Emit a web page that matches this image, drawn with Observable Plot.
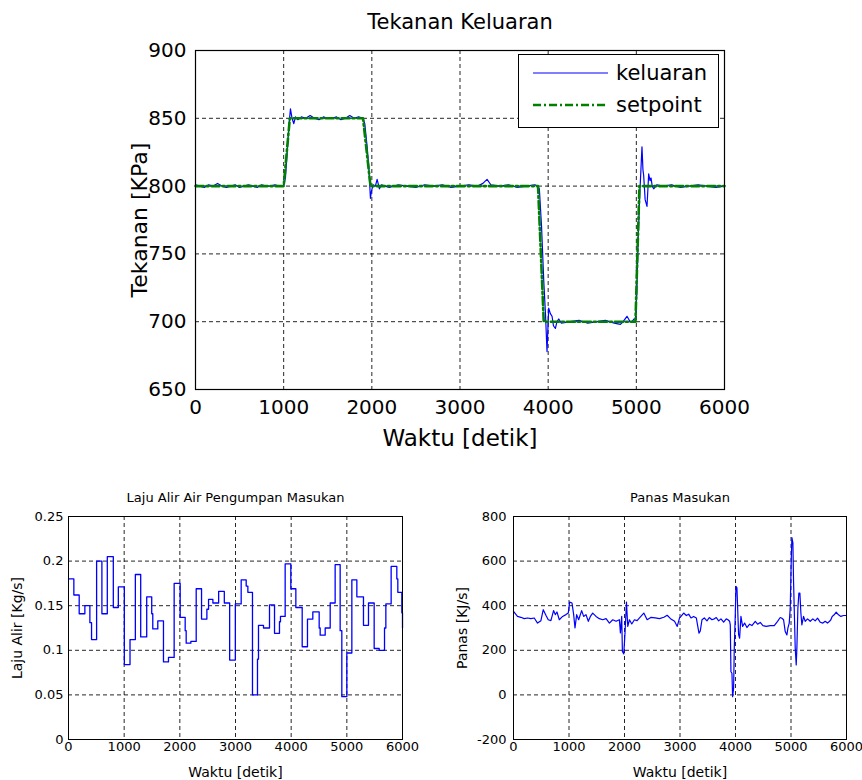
<!DOCTYPE html>
<html>
<head>
<meta charset="utf-8">
<script src="https://cdn.jsdelivr.net/npm/d3@7"></script>
<script src="https://cdn.jsdelivr.net/npm/@observablehq/plot@0.6"></script>
<style>
  html, body { margin: 0; padding: 0; background: white; }
  #page { position: relative; width: 862px; height: 780px; overflow: hidden; background: white; font-family: "DejaVu Sans", sans-serif; }
  .chart { position: absolute; }
  #legend { position: absolute; left: 518px; top: 54px; width: 201px; height: 74px; border: 1px solid black; background: white; box-sizing: border-box; }
  #legend svg { position: absolute; left: 0; top: 0; }
</style>
</head>
<body>
<div id="page">
  <div id="top" class="chart" style="left:0;top:0"></div>
  <div id="bl" class="chart" style="left:0;top:470px"></div>
  <div id="br" class="chart" style="left:431px;top:470px"></div>
  <div id="legend"></div>
</div>
<script>
// ---------- data ----------
const xTicks = [0, 1000, 2000, 3000, 4000, 5000, 6000];
const tekananTicks = [650, 700, 750, 800, 850, 900];
const lajuTicks = [0, 0.05, 0.1, 0.15, 0.2, 0.25];
const panasTicks = [-200, 0, 200, 400, 600, 800];

const titleTop = "Tekanan Keluaran";
const titleLaju = "Laju Alir Air Pengumpan Masukan";
const titlePanas = "Panas Masukan";
const xLabel = "Waktu [detik]";
const yLabelTop = "Tekanan [KPa]";
const yLabelLaju = "Laju Alir [Kg/s]";
const yLabelPanas = "Panas [KJ/s]";
const seriesNames = ["keluaran", "setpoint"];

// setpoint [t, KPa]
const setpoint = [
  [0, 800], [1000, 800], [1070, 850], [1900, 850], [1985, 800],
  [3885, 800], [3950, 700], [4990, 700], [5035, 800], [6000, 800]
];

// keluaran [t, KPa]
const keluaran = [
  [0, 801], [50, 800], [100, 799], [150, 801], [200, 800], [250, 802], [300, 800], [350, 799],
  [400, 800], [450, 801], [500, 799], [550, 800], [600, 801], [650, 800], [700, 799], [750, 801],
  [800, 800], [850, 800], [900, 801], [950, 800], [1000, 800], [1020, 806], [1040, 825], [1060, 845],
  [1077, 857], [1095, 850], [1115, 846], [1134, 851], [1160, 849], [1200, 851], [1250, 850], [1300, 852],
  [1350, 850], [1400, 849], [1450, 851], [1500, 850], [1550, 850], [1600, 851], [1650, 849], [1700, 850],
  [1750, 852], [1800, 850], [1850, 851], [1900, 850], [1920, 846], [1945, 830], [1965, 815], [1984, 791],
  [1995, 796], [2014, 801], [2040, 800], [2060, 805], [2086, 798], [2110, 801], [2150, 800], [2200, 799],
  [2300, 801], [2400, 800], [2500, 799], [2600, 801], [2700, 800], [2800, 801], [2900, 799], [3000, 800],
  [3100, 801], [3200, 800], [3260, 802], [3307, 805], [3350, 801], [3450, 800], [3550, 801], [3650, 799],
  [3750, 800], [3850, 801], [3880, 800], [3900, 798], [3925, 770], [3950, 730], [3970, 705], [3987, 678],
  [4006, 710], [4025, 706], [4044, 704], [4060, 697], [4082, 695], [4100, 700], [4120, 702], [4150, 699],
  [4250, 700], [4350, 701], [4450, 699], [4550, 700], [4650, 701], [4750, 699], [4819, 698], [4850, 700],
  [4894, 704], [4930, 700], [4951, 700], [4975, 702], [4990, 702], [5005, 720], [5020, 760], [5040, 795],
  [5064, 829], [5075, 812], [5083, 808], [5100, 790], [5121, 785], [5140, 809], [5155, 804], [5167, 806],
  [5180, 800], [5197, 798], [5234, 801], [5300, 800], [5400, 801], [5500, 799], [5600, 800], [5700, 801],
  [5800, 800], [5900, 799], [6000, 800]
];

// laju alir air [t, Kg/s] (held until next t)
const laju = [
  [0, 0.180], [96, 0.162], [192, 0.141], [294, 0.150], [384, 0.131], [414, 0.112], [505, 0.200],
  [600, 0.141], [697, 0.205], [805, 0.148], [895, 0.171], [1003, 0.084], [1105, 0.112], [1201, 0.185],
  [1297, 0.115], [1405, 0.160], [1495, 0.141], [1514, 0.124], [1604, 0.133], [1706, 0.087], [1796, 0.092],
  [1898, 0.175], [2006, 0.137], [2096, 0.122], [2114, 0.108], [2198, 0.110], [2294, 0.169], [2390, 0.135],
  [2486, 0.146], [2516, 0.157], [2594, 0.153], [2697, 0.166], [2799, 0.153], [2895, 0.089], [2997, 0.152],
  [3102, 0.179], [3192, 0.172], [3222, 0.165], [3305, 0.050], [3395, 0.090], [3413, 0.128], [3503, 0.125],
  [3611, 0.151], [3701, 0.119], [3790, 0.132], [3808, 0.138], [3892, 0.197], [3994, 0.169], [4084, 0.148],
  [4198, 0.104], [4293, 0.135], [4389, 0.143], [4503, 0.125], [4521, 0.117], [4611, 0.125], [4701, 0.153],
  [4790, 0.196], [4880, 0.122], [4910, 0.048], [5000, 0.097], [5090, 0.179], [5180, 0.160], [5299, 0.128],
  [5389, 0.153], [5491, 0.102], [5581, 0.100], [5677, 0.125], [5701, 0.152], [5796, 0.194], [5898, 0.180],
  [5916, 0.165], [5988, 0.142], [6000, 0.125]
];

// panas masukan [t, KJ/s]
const panas = [
  [0, 375], [72, 352], [132, 348], [193, 342], [253, 345], [313, 342], [373, 345], [433, 322], [494, 333],
  [536, 382], [584, 357], [626, 337], [674, 333], [722, 378], [753, 360], [783, 372], [825, 337], [885, 352],
  [945, 360], [987, 367], [1011, 416], [1054, 412], [1084, 360], [1108, 300], [1138, 360], [1174, 337],
  [1228, 378], [1264, 352], [1306, 360], [1348, 330], [1385, 352], [1427, 367], [1487, 352], [1547, 342],
  [1607, 337], [1668, 342], [1728, 322], [1788, 337], [1848, 330], [1908, 337], [1926, 278], [1950, 352],
  [1962, 195], [1987, 184], [2011, 285], [2035, 416], [2059, 307], [2089, 337], [2131, 318], [2179, 337],
  [2227, 333], [2270, 345], [2348, 367], [2408, 337], [2480, 348], [2552, 345], [2631, 342], [2709, 348],
  [2769, 357], [2829, 342], [2902, 330], [2950, 307], [2992, 345], [3018, 352], [3066, 367], [3114, 356],
  [3156, 362], [3198, 345], [3246, 352], [3294, 345], [3318, 311], [3342, 277], [3366, 287], [3396, 337],
  [3438, 345], [3486, 332], [3528, 347], [3576, 337], [3618, 341], [3654, 347], [3696, 332], [3738, 341],
  [3786, 326], [3834, 341], [3864, 337], [3894, 330], [3906, 314], [3918, 104], [3936, 97], [3948, -8],
  [3966, 30], [3978, 210], [3996, 360], [4008, 487], [4026, 480], [4044, 352], [4056, 270], [4074, 254],
  [4098, 352], [4128, 307], [4164, 322], [4206, 302], [4254, 317], [4296, 311], [4356, 330], [4398, 317],
  [4446, 325], [4494, 311], [4554, 307], [4626, 311], [4698, 311], [4758, 330], [4806, 347], [4836, 344],
  [4866, 337], [4896, 284], [4926, 269], [4944, 299], [4968, 322], [4986, 389], [5004, 600], [5016, 705],
  [5034, 682], [5046, 510], [5058, 389], [5076, 210], [5094, 134], [5106, 210], [5124, 389], [5142, 457],
  [5160, 457], [5178, 367], [5196, 314], [5226, 352], [5256, 330], [5298, 341], [5346, 330], [5394, 341],
  [5436, 332], [5478, 344], [5526, 326], [5574, 322], [5616, 330], [5658, 322], [5694, 330], [5718, 337],
  [5742, 352], [5778, 359], [5814, 371], [5856, 359], [5898, 352], [5946, 356], [6000, 356]
];

// ---------- styles ----------
const BLUE = "#0000ff";
const GREEN = "#008000";
const FONT = "DejaVu Sans";
const gridStyle = {stroke: "black", strokeOpacity: 0.85, strokeWidth: 1, strokeDasharray: "4,3"};
const fmt = d => String(d);
const centered = {textAnchor: "middle", lineAnchor: "middle"};

// ---------- top chart ----------
const topChart = Plot.plot({
  width: 862, height: 470,
  marginLeft: 195, marginRight: 138, marginTop: 50, marginBottom: 81,
  x: {domain: [0, 6000]},
  y: {domain: [650, 900]},
  style: {fontFamily: FONT, color: "black", background: "transparent", overflow: "visible"},
  marks: [
    Plot.gridX({ticks: xTicks, ...gridStyle}),
    Plot.gridY({ticks: tekananTicks, ...gridStyle}),
    Plot.line(keluaran, {x: d => d[0], y: d => d[1], stroke: BLUE, strokeWidth: 1.2}),
    Plot.line(setpoint, {x: d => d[0], y: d => d[1], stroke: GREEN, strokeWidth: 2.6, strokeDasharray: "8,3,2,3"}),
    Plot.frame({stroke: "black", strokeWidth: 1.2}),
    Plot.axisX({ticks: xTicks, tickSize: 0, tickPadding: 10, fontSize: 20, label: null, tickFormat: fmt}),
    Plot.axisY({ticks: tekananTicks, tickSize: 0, tickPadding: 9, fontSize: 20, label: null, tickFormat: fmt}),
    Plot.text([titleTop], {frameAnchor: "top", dy: -28, fontSize: 21, ...centered}),
    Plot.text([xLabel], {frameAnchor: "bottom", dy: 49, fontSize: 23, ...centered}),
    Plot.text([yLabelTop], {frameAnchor: "left", dx: -56, rotate: -90, fontSize: 22, ...centered})
  ]
});
document.getElementById("top").appendChild(topChart);

// ---------- bottom left ----------
const lajuChart = Plot.plot({
  width: 431, height: 310,
  marginLeft: 68, marginRight: 29, marginTop: 46, marginBottom: 41,
  x: {domain: [0, 6000]},
  y: {domain: [0, 0.25]},
  style: {fontFamily: FONT, color: "black", background: "transparent", overflow: "visible"},
  marks: [
    Plot.gridX({ticks: xTicks, ...gridStyle}),
    Plot.gridY({ticks: lajuTicks, ...gridStyle}),
    Plot.line(laju, {x: d => d[0], y: d => d[1], stroke: BLUE, strokeWidth: 1.3, curve: "step-after"}),
    Plot.frame({stroke: "black", strokeWidth: 1}),
    Plot.axisX({ticks: xTicks, tickSize: 0, tickPadding: 2, fontSize: 13, label: null, tickFormat: fmt}),
    Plot.axisY({ticks: lajuTicks, tickSize: 0, tickPadding: 5, fontSize: 13, label: null, tickFormat: fmt}),
    Plot.text([titleLaju], {frameAnchor: "top", dy: -19, fontSize: 13, ...centered}),
    Plot.text([xLabel], {frameAnchor: "bottom", dy: 33, fontSize: 14, ...centered}),
    Plot.text([yLabelLaju], {frameAnchor: "left", dx: -51, rotate: -90, fontSize: 14, ...centered})
  ]
});
document.getElementById("bl").appendChild(lajuChart);

// ---------- bottom right ----------
const panasChart = Plot.plot({
  width: 431, height: 310,
  marginLeft: 82, marginRight: 16, marginTop: 46, marginBottom: 41,
  x: {domain: [0, 6000]},
  y: {domain: [-200, 800]},
  style: {fontFamily: FONT, color: "black", background: "transparent", overflow: "visible"},
  marks: [
    Plot.gridX({ticks: xTicks, ...gridStyle}),
    Plot.gridY({ticks: panasTicks, ...gridStyle}),
    Plot.line(panas, {x: d => d[0], y: d => d[1], stroke: BLUE, strokeWidth: 1.2}),
    Plot.frame({stroke: "black", strokeWidth: 1}),
    Plot.axisX({ticks: xTicks, tickSize: 0, tickPadding: 2, fontSize: 13, label: null, tickFormat: fmt}),
    Plot.axisY({ticks: panasTicks, tickSize: 0, tickPadding: 7, fontSize: 13, label: null, tickFormat: fmt}),
    Plot.text([titlePanas], {frameAnchor: "top", dy: -19, fontSize: 13, ...centered}),
    Plot.text([xLabel], {frameAnchor: "bottom", dy: 33, fontSize: 14, ...centered}),
    Plot.text([yLabelPanas], {frameAnchor: "left", dx: -51, rotate: -90, fontSize: 14, ...centered})
  ]
});
document.getElementById("br").appendChild(panasChart);

// ---------- legend (top chart) ----------
const legend = document.getElementById("legend");
const ns = "http://www.w3.org/2000/svg";
const lsvg = document.createElementNS(ns, "svg");
lsvg.setAttribute("width", 199);
lsvg.setAttribute("height", 72);
const legendStyles = [
  {stroke: BLUE, width: 1.2, dash: null},
  {stroke: GREEN, width: 2.6, dash: "8,3,2,3"}
];
seriesNames.forEach((name, i) => {
  const yy = 18 + i * 32;
  const ln = document.createElementNS(ns, "line");
  ln.setAttribute("x1", 14); ln.setAttribute("x2", 89);
  ln.setAttribute("y1", yy); ln.setAttribute("y2", yy);
  ln.setAttribute("stroke", legendStyles[i].stroke);
  ln.setAttribute("stroke-width", legendStyles[i].width);
  if (legendStyles[i].dash) ln.setAttribute("stroke-dasharray", legendStyles[i].dash);
  lsvg.appendChild(ln);
  const tx = document.createElementNS(ns, "text");
  tx.setAttribute("x", 97); tx.setAttribute("y", yy);
  tx.setAttribute("dy", "0.35em");
  tx.setAttribute("font-family", FONT);
  tx.setAttribute("font-size", 21);
  tx.textContent = name;
  lsvg.appendChild(tx);
});
legend.appendChild(lsvg);
</script>
</body>
</html>
